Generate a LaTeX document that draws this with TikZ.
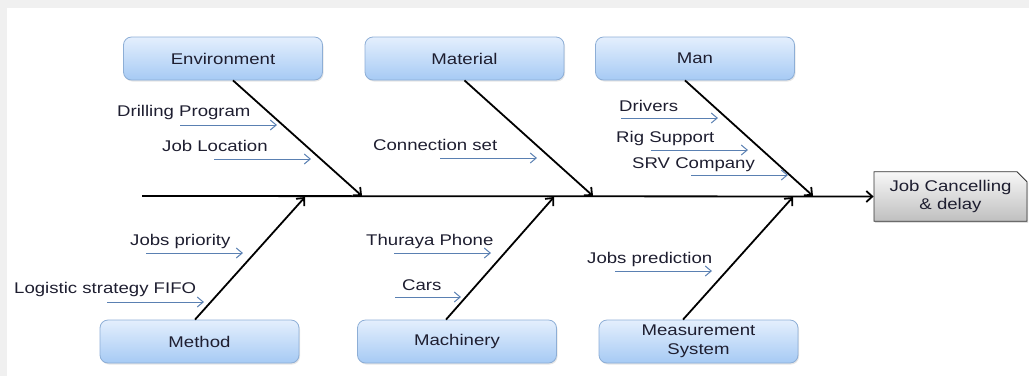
\documentclass[tikz,border=0pt]{standalone}
\usepackage{fontspec}
\setmainfont{Liberation Sans}[FakeStretch=1.2]
\usetikzlibrary{positioning, arrows.meta, shapes.misc, shadows}

\definecolor{boxtop}{HTML}{E4EFFD}
\definecolor{boxbot}{HTML}{A6CAF4}
\definecolor{boxline}{HTML}{8DAED6}
\definecolor{twigcol}{HTML}{5A80B2}
\definecolor{txtcol}{HTML}{1E1E30}

\tikzset{
  cause/.style={draw=boxline, line width=0.8pt, rounded corners=8pt,
    top color=boxtop, bottom color=boxbot, minimum width=199pt,
    minimum height=43pt, align=center, text=txtcol,
    drop shadow={opacity=0.2, shadow xshift=1pt, shadow yshift=-1.5pt}},
  effect/.style={chamfered rectangle, chamfered rectangle corners=north east,
    chamfered rectangle xsep=5pt, chamfered rectangle ysep=5pt,
    draw=black!80, line width=0.8pt, top color=black!3, bottom color=black!25,
    minimum width=153pt, minimum height=39pt, align=center, text=txtcol,
    drop shadow={opacity=0.25, shadow xshift=1pt, shadow yshift=-1.5pt}},
  bone/.style={line width=1.8pt, -{Straight Barb[length=6pt, width=11pt]}},
  twig/.style={draw=twigcol, line width=1pt, -{Straight Barb[length=6pt, width=10pt]}},
  lbl/.style={anchor=west, inner sep=0pt, text=txtcol}
}

\begin{document}
\begin{tikzpicture}[x=1pt, y=-1pt, font=\fontsize{15.5}{18.5}\selectfont]
	\useasboundingbox (0,0) rectangle (1029,376);
	% grey page edge
	\fill[black!6] (0,0) rectangle (1029,8);
	\fill[black!6] (0,0) rectangle (7,376);

	% categories
	\node[cause] (env)  at (223,58.5)  {Environment};
	\node[cause] (mat)  at (464.5,58.5) {Material};
	\node[cause] (man)  at (695,58.5)  {Man};
	\node[cause] (meth) at (199.5,341.5) {Method};
	\node[cause] (mach) at (457,341.5) {Machinery};
	\node[cause] (meas) at (698.5,341.5) {Measurement\\System};

	% head and spine
	\node[effect] (job) at (950.5,196.5) {Job Cancelling\\\& delay};
	\coordinate (tail) at (142,196);
	\draw[bone] (tail) -- (job.west);

	% bones
	\coordinate (envend)  at (362,196);
	\coordinate (matend)  at (593,196);
	\coordinate (manend)  at (813,196);
	\coordinate (methend) at (305,197);
	\coordinate (machend) at (554,197);
	\coordinate (measend) at (793,197);
	\draw[bone] ([xshift=10pt]env.south) -- (envend);
	\draw[bone] (mat.south) -- (matend);
	\draw[bone] ([xshift=-10pt]man.south) -- (manend);
	\draw[bone] ([xshift=-4.5pt]meth.north) -- (methend);
	\draw[bone] ([xshift=-11pt]mach.north) -- (machend);
	\draw[bone] ([xshift=-15.5pt]meas.north) -- (measend);

	% sub causes
	\node[lbl] (drill) at (117,112) {Drilling Program};
	\coordinate (drill1) at (180,125); \coordinate (drill2) at (277,125);
	\draw[twig] (drill1) -- (drill2);
	\node[lbl] (loc) at (162,146) {Job Location};
	\coordinate (loc1) at (214,159); \coordinate (loc2) at (311,159);
	\draw[twig] (loc1) -- (loc2);
	\node[lbl] (conn) at (373,145) {Connection set};
	\coordinate (conn1) at (440,158); \coordinate (conn2) at (537,158);
	\draw[twig] (conn1) -- (conn2);
	\node[lbl] (drv) at (619,106) {Drivers};
	\coordinate (drv1) at (621,118); \coordinate (drv2) at (718,118);
	\draw[twig] (drv1) -- (drv2);
	\node[lbl] (rig) at (616,138) {Rig Support};
	\coordinate (rig1) at (651,150); \coordinate (rig2) at (748,150);
	\draw[twig] (rig1) -- (rig2);
	\node[lbl] (srv) at (632,165) {SRV Company};
	\coordinate (srv1) at (691,175); \coordinate (srv2) at (788,175);
	\draw[twig] (srv1) -- (srv2);
	\node[lbl] (prio) at (130,241) {Jobs priority};
	\coordinate (prio1) at (146,253); \coordinate (prio2) at (243,253);
	\draw[twig] (prio1) -- (prio2);
	\node[lbl] (fifo) at (14,289) {Logistic strategy FIFO};
	\coordinate (fifo1) at (107,302); \coordinate (fifo2) at (204,302);
	\draw[twig] (fifo1) -- (fifo2);
	\node[lbl] (phone) at (366,241) {Thuraya Phone};
	\coordinate (phone1) at (394,253); \coordinate (phone2) at (491,253);
	\draw[twig] (phone1) -- (phone2);
	\node[lbl] (cars) at (402,285) {Cars};
	\coordinate (cars1) at (395,297); \coordinate (cars2) at (461,297);
	\draw[twig] (cars1) -- (cars2);
	\node[lbl] (pred) at (587,259) {Jobs prediction};
	\coordinate (pred1) at (615,271); \coordinate (pred2) at (712,271);
	\draw[twig] (pred1) -- (pred2);
\end{tikzpicture}
\end{document}
